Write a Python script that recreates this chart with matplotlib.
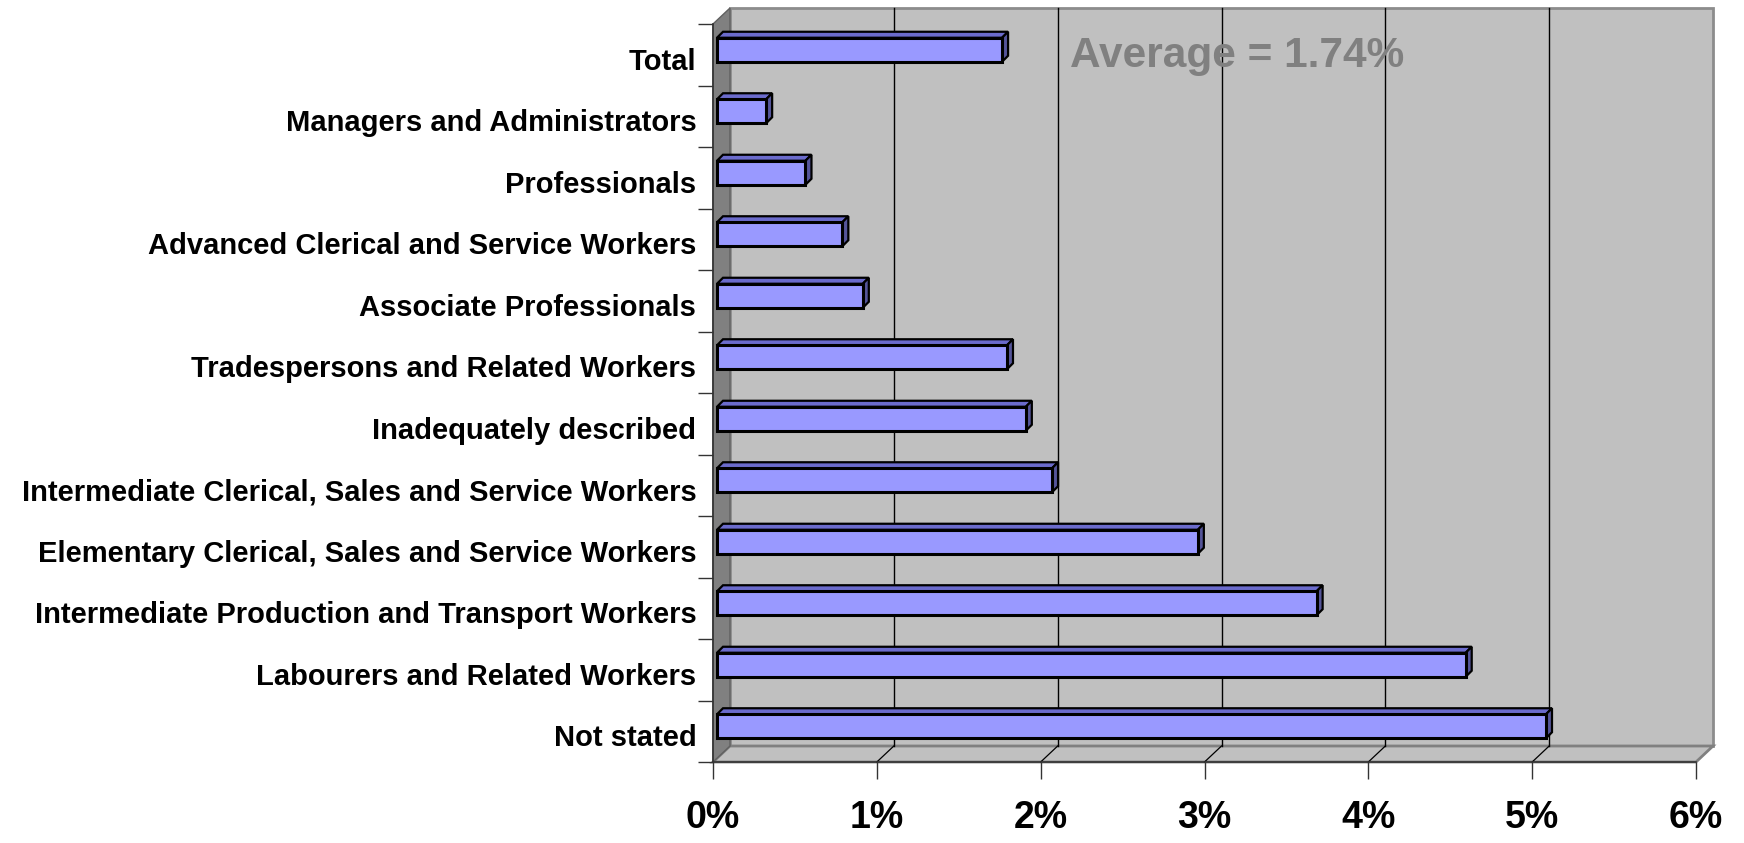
import numpy as np
import matplotlib
matplotlib.use("Agg")
import matplotlib.pyplot as plt
from matplotlib.patches import Polygon

# data (percent)
categories = ["Total", "Managers and Administrators", "Professionals",
              "Advanced Clerical and Service Workers", "Associate Professionals",
              "Tradespersons and Related Workers", "Inadequately described",
              "Intermediate Clerical, Sales and Service Workers",
              "Elementary Clerical, Sales and Service Workers",
              "Intermediate Production and Transport Workers",
              "Labourers and Related Workers", "Not stated"]
values = [1.74, 0.30, 0.54, 0.765, 0.89, 1.77, 1.885, 2.045, 2.935, 3.66, 4.57, 5.06]
xticks = [0, 1, 2, 3, 4, 5, 6]
xlabels = ["0%", "1%", "2%", "3%", "4%", "5%", "6%"]
average_label = "Average = 1.74%"

font = ["Liberation Sans", "DejaVu Sans"]

fig = plt.figure(figsize=(17.44, 8.43), dpi=100)
W, H = 1744, 843
# front plane of the 3D box, in pixels
left, right, top, bottom = 713, 1696, 24, 762
ax = fig.add_axes([left / W, 1 - bottom / H, (right - left) / W, (bottom - top) / H])
ax.patch.set_visible(False)

n = len(categories)
xmax = 6
y0, y1 = -0.5, n - 0.5
ax.set_xlim(0, xmax)
ax.set_ylim(y1, y0)

# depth of the box, in data units (17 px right, 16 px up)
DX = 17 / ((right - left) / xmax)
DY = 16 / ((bottom - top) / n)

# back wall
ax.add_patch(Polygon([(DX, y0 - DY), (xmax + DX, y0 - DY), (xmax + DX, y1 - DY), (DX, y1 - DY)],
                     closed=True, facecolor="#c0c0c0", edgecolor="#8c8c8c", lw=2,
                     clip_on=False, zorder=0.5))
# floor
ax.add_patch(Polygon([(0, y1), (xmax, y1), (xmax + DX, y1 - DY), (DX, y1 - DY)],
                     closed=True, facecolor="#c0c0c0", edgecolor="#808080", lw=2,
                     clip_on=False, zorder=0.6))
# gridlines on wall and floor
for k in xticks[1:-1]:
    ax.plot([k + DX, k + DX], [y0 - DY, y1 - DY], color="black", lw=1, clip_on=False, zorder=0.7)
    ax.plot([k, k + DX], [y1, y1 - DY], color="black", lw=0.9, clip_on=False, zorder=0.7)
# left wall
ax.add_patch(Polygon([(0, y0), (DX, y0 - DY), (DX, y1 - DY), (0, y1)],
                     closed=True, facecolor="#808080", edgecolor="#606060", lw=1,
                     clip_on=False, zorder=0.8))

# bars with 3D faces
ypos = np.arange(n)
bx = 4 / ((right - left) / xmax)
yc = ypos - 5 / ((bottom - top) / n)
h = 0.39
ddx = 6 / ((right - left) / xmax)
ddy = 6 / ((bottom - top) / n)
ax.barh(yc, values, height=h, left=bx, color="#9999ff", edgecolor="black", lw=2.2,
        zorder=3, clip_on=False)
for v, c in zip(values, yc):
    yt, yb = c - h / 2, c + h / 2
    ax.add_patch(Polygon([(bx, yt), (bx + v, yt), (bx + v + ddx, yt - ddy), (bx + ddx, yt - ddy)],
                         closed=True, facecolor="#6b6bcc", edgecolor="black", lw=1.6,
                         zorder=2.9, clip_on=False))
    ax.add_patch(Polygon([(bx + v, yt), (bx + v + ddx, yt - ddy), (bx + v + ddx, yb - ddy), (bx + v, yb)],
                         closed=True, facecolor="#55559a", edgecolor="black", lw=1.6,
                         zorder=2.9, clip_on=False))

# spines (front edges of the box)
for s in ["top", "right"]:
    ax.spines[s].set_visible(False)
for s in ["left", "bottom"]:
    ax.spines[s].set_color("#333333")
    ax.spines[s].set_linewidth(1.2)
    ax.spines[s].set_zorder(5)

# x axis
ax.set_xticks(xticks)
ax.set_xticklabels(xlabels, fontsize=27, fontweight="bold", family=font)
ax.tick_params(axis="x", length=12.2, width=1, color="#333333", pad=15.5)

# y axis: ticks on band edges, labels in between
ax.set_yticks(np.arange(n + 1) - 0.5)
ax.set_yticklabels([])
ax.tick_params(axis="y", which="major", length=10.8, width=1, color="#333333")
ax.set_yticks(ypos + 0.065, minor=True)
ax.set_yticklabels(categories, minor=True, fontsize=21, fontweight="bold", family=font)
ax.tick_params(axis="y", which="minor", length=0, pad=12)

ax.text(2.18, 0.02, average_label, ha="left", va="center", fontsize=30.5,
        fontweight="bold", color="#808080", family=font, zorder=2)

fig.savefig("out.png", dpi=100)
